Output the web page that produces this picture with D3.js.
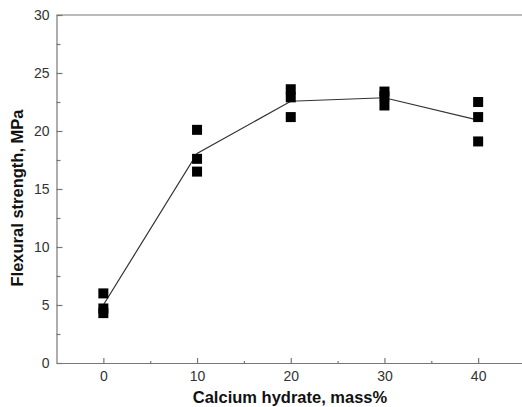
<!DOCTYPE html>
<meta charset="utf-8">
<style>
body { margin: 0; background: #fff; }
svg { font-family: "Liberation Sans", Arial, sans-serif; }
.axis path, .axis line { stroke: #777; stroke-width: 1.2px; }
.axis text { fill: #333; font-size: 14px; }
.title { font-weight: bold; font-size: 16.5px; fill: #111; }
.line { fill: none; stroke: #333; stroke-width: 1.2px; }
</style>
<body>
<script src="https://d3js.org/d3.v7.min.js"></script>
<script>

// data
var contents = [0, 10, 20, 30, 40];
var sample1 = [6.0, 20.1, 23.6, 23.4, 22.5];
var sample2 = [4.7, 17.6, 22.9, 23.0, 21.2];
var sample3 = [4.3, 16.5, 21.2, 22.2, 19.1];
var yTicks = [0, 5, 10, 15, 20, 25, 30];
var xTicks = [0, 10, 20, 30, 40];

var width = 522, height = 407;

var x = d3.scaleLinear().domain([-5, 45]).range([56.5, 525]);
var y = d3.scaleLinear().domain([0, 30]).range([363, 15]);

var svg = d3.select("body").append("svg")
    .attr("width", width)
    .attr("height", height);

// frame top line
svg.append("line")
    .attr("x1", x(-5)).attr("x2", x(45))
    .attr("y1", y(30)).attr("y2", y(30))
    .style("stroke", "#777").style("stroke-width", 1.2);

// minor ticks
svg.append("g")
    .attr("class", "axis")
    .attr("transform", "translate(" + x(-5) + ",0)")
    .call(d3.axisRight(y).tickValues([2.5, 7.5, 12.5, 17.5, 22.5, 27.5]).tickSize(4).tickFormat(""))
    .call(function(g) { g.select(".domain").remove(); });

svg.append("g")
    .attr("class", "axis")
    .attr("transform", "translate(0," + y(0) + ")")
    .call(d3.axisTop(x).tickValues([5, 15, 25, 35]).tickSize(2).tickFormat(""))
    .call(function(g) { g.select(".domain").remove(); });

// Y axis
var yAxis = svg.append("g")
    .attr("class", "axis")
    .attr("transform", "translate(" + x(-5) + ",0)")
    .call(d3.axisRight(y).tickValues(yTicks).tickSize(6).tickSizeOuter(0));
yAxis.selectAll("text").attr("x", -7).style("text-anchor", "end");

// X axis
var xAxis = svg.append("g")
    .attr("class", "axis")
    .attr("transform", "translate(0," + y(0) + ")")
    .call(d3.axisTop(x).tickValues(xTicks).tickSize(5).tickSizeOuter(0));
xAxis.selectAll("text").attr("y", 8).attr("dy", "0.71em");

// mean line
var means = contents.map(function(c, i) {
  return { c: c, v: (sample1[i] + sample2[i] + sample3[i]) / 3 };
});
svg.append("path")
    .datum(means)
    .attr("class", "line")
    .attr("d", d3.line().x(function(d) { return x(d.c); }).y(function(d) { return y(d.v); }));

// points
var pts = [];
contents.forEach(function(c, i) {
  pts.push({ c: c, v: sample1[i] }, { c: c, v: sample2[i] }, { c: c, v: sample3[i] });
});
var s = 10;
svg.selectAll("rect.pt")
    .data(pts)
  .enter().append("rect")
    .attr("class", "pt")
    .attr("x", function(d) { return x(d.c) - s / 2; })
    .attr("y", function(d) { return y(d.v) - s / 2; })
    .attr("width", s)
    .attr("height", s)
    .style("fill", "#000");

// axis titles
svg.append("text")
    .attr("class", "title")
    .attr("x", 290)
    .attr("y", 403)
    .style("text-anchor", "middle")
    .text("Calcium hydrate, mass%");

svg.append("text")
    .attr("class", "title")
    .attr("transform", "translate(23,198) rotate(-90)")
    .style("text-anchor", "middle")
    .text("Flexural strength, MPa");

</script>
</body>
